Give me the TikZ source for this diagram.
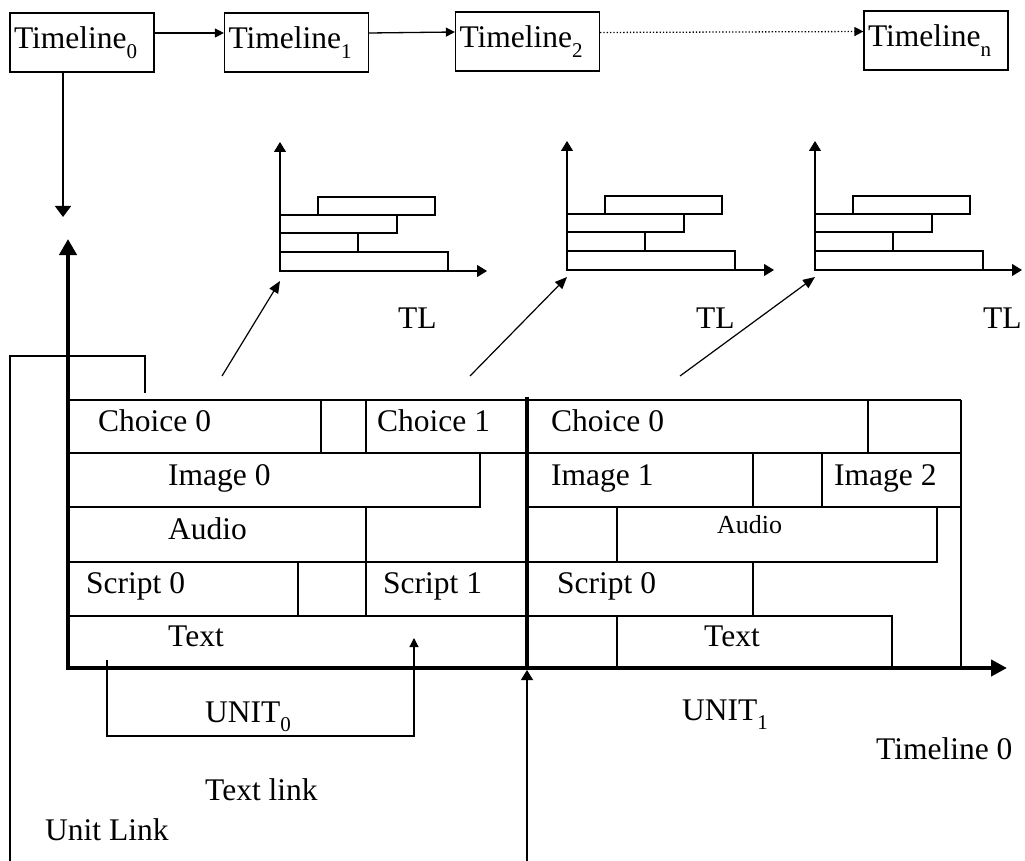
\documentclass[tikz,border=0pt]{standalone}
\usepackage{fontspec}
\setmainfont{Liberation Serif}
\usetikzlibrary{arrows.meta,calc}
\newcommand{\sbs}[1]{\raisebox{-0.3em}{\fontsize{21}{21}\selectfont #1}}
\begin{document}
\begin{tikzpicture}[x=1pt,y=-1pt,
  gridline/.style={line width=1.2pt},
  chartline/.style={line width=1.1pt},
  axisline/.style={line width=4pt,line join=miter},
  lbl/.style={anchor=base west,inner sep=0pt,font=\fontsize{31.5}{36}\selectfont},
  slbl/.style={anchor=base west,inner sep=0pt,font=\fontsize{26}{30}\selectfont},
  tlbox/.style={draw,line width=1.2pt,minimum width=144pt,minimum height=59pt,inner ysep=0pt,inner xsep=4pt,
     text width=136pt,align=left,
     font=\fontsize{31.5}{36}\selectfont,text height=20pt,text depth=7pt},
  arr/.style={-{Triangle[length=9pt,width=9pt]},line width=1.3pt},
  darr/.style={-{Triangle[length=12pt,width=10pt]},line width=1.2pt},
  carr/.style={-{Triangle[length=10pt,width=12pt]},chartline},
]
\useasboundingbox (0,0) rectangle (1025,861);

% --- top timeline row
\node[tlbox] (t0) at (82,42.5) {Timeline\sbs{0}};
\node[tlbox] (t1) at (296.5,42.5) {Timeline\sbs{1}};
\node[tlbox] (t2) at (527.5,41.5) {Timeline\sbs{2}};
\node[tlbox] (tn) at (936,40.5) {Timeline\sbs{n}};
\draw[arr] ([yshift=9.5pt]t0.east) -- ([yshift=9.5pt]t1.west);
\draw[arr] ([yshift=9.5pt]t1.east) -- ([yshift=9.5pt]t2.west);
\draw[arr,dotted] ([yshift=9pt]t2.east) -- ([yshift=9pt]tn.west);
\coordinate (d0) at (63,217);
\draw[line width=1.5pt,-{Triangle[length=11pt,width=16pt]}] (t0.south -| d0) -- (d0);

% --- small TL charts
\foreach \ox/\oy/\nm in {280/271/a,567/270/b,815/270/c}{
  \begin{scope}[shift={(\ox,\oy)}]
    \coordinate (c\nm) at (0,0);
    \coordinate (cy\nm) at (0,-129);
    \coordinate (cx\nm) at (207,0);
    \draw[carr] (c\nm) -- (cy\nm);
    \draw[carr] (c\nm) -- (cx\nm);
    \draw[chartline] (38,-74) rectangle (155,-56);
    \draw[chartline] (0,-56) rectangle (117,-38);
    \draw[chartline] (0,-38) rectangle (78,-19);
    \draw[chartline] (0,-19) rectangle (168,0);
  \end{scope}
}
\node[lbl] (tla) at (398,328) {TL};
\node[lbl] (tlb) at (696,328) {TL};
\node[lbl] (tlc) at (983,328) {TL};

% --- diagonal arrows
\coordinate (s1) at (222,376);
\coordinate (s2) at (470,376);
\coordinate (s3) at (680,376);
\draw[darr] (s1) -- ([yshift=-10pt]ca);
\draw[darr] (s2) -- ([yshift=-7pt]cb);
\draw[darr] (s3) -- ([yshift=-7pt]cc);

% --- grid, left unit
\draw[gridline] (68,400) -- (961,400);
\draw[gridline] (68,453) -- (961,453);
\draw[gridline] (68,507) -- (480,507) -- (480,453);
\draw[gridline] (527,507) -- (961,507);
\draw[gridline] (68,562) -- (527,562);
\draw[gridline] (68,616) -- (527,616);
\draw[gridline] (321,400) -- (321,453);
\draw[gridline] (366,400) -- (366,453);
\draw[gridline] (366,507) -- (366,562);
\draw[gridline] (298,562) -- (298,616);
\draw[gridline] (366,562) -- (366,616);
% --- grid, right unit
\draw[gridline] (961,400) -- (961,668);
\draw[gridline] (868,400) -- (868,453);
\draw[gridline] (753,453) -- (753,507);
\draw[gridline] (822,453) -- (822,507);
\draw[gridline] (617,507) -- (617,562);
\draw[gridline] (527,562) -- (937,562) -- (937,507);
\draw[gridline] (753,562) -- (753,616);
\draw[gridline] (527,616) -- (892,616) -- (892,668);
\draw[gridline] (617,616) -- (617,668);
\draw[line width=4pt] (527,397) -- (527,668);

% --- main axes
\coordinate (o) at (68,668);
\coordinate (ytip) at (68,239);
\coordinate (xtip) at (1007,668);
\draw[axisline,{Triangle[length=16pt,width=17pt]}-{Triangle[length=16pt,width=16pt]}] (ytip) -- (o) -- (xtip);

% --- cell labels
\node[lbl] (l1) at (98,431) {Choice 0};
\node[lbl] (l2) at (377,431) {Choice 1};
\node[lbl] (l3) at (168,485) {Image 0};
\node[lbl] (l4) at (168,539) {Audio};
\node[lbl] (l5) at (86,593) {Script 0};
\node[lbl] (l6) at (383,593) {Script 1};
\node[lbl] (l7) at (168,646) {Text};
\node[lbl] (r1) at (551,431) {Choice 0};
\node[lbl] (r2) at (551,485) {Image 1};
\node[lbl] (r3) at (834,485) {Image 2};
\node[slbl] (r4) at (717,533) {Audio};
\node[lbl] (r5) at (557,593) {Script 0};
\node[lbl] (r6) at (704,646) {Text};

% --- links
\coordinate (ul0) at (145,393);
\coordinate (ul1) at (10,861);
\draw[gridline] (ul0) -- (145,356) -- (10,356) -- (ul1);
\coordinate (tk0) at (107,660);
\coordinate (tk1) at (414,638);
\draw[arr,line width=1.2pt] (tk0) -- (107,736) -- (414,736) -- (tk1);
\coordinate (u1a) at (527,861);
\coordinate (u1b) at (527,670);
\draw[gridline,-{Triangle[length=10pt,width=12pt]}] (u1a) -- (u1b);

% --- bottom labels
\node[lbl] (un0) at (205,722) {UNIT\sbs{0}};
\node[lbl] (un1) at (682,720) {UNIT\sbs{1}};
\node[lbl] (tlk) at (205,800) {Text link};
\node[lbl] (ulk) at (45,840) {Unit Link};
\node[lbl] (tl0) at (876,759) {Timeline 0};
\end{tikzpicture}
\end{document}
